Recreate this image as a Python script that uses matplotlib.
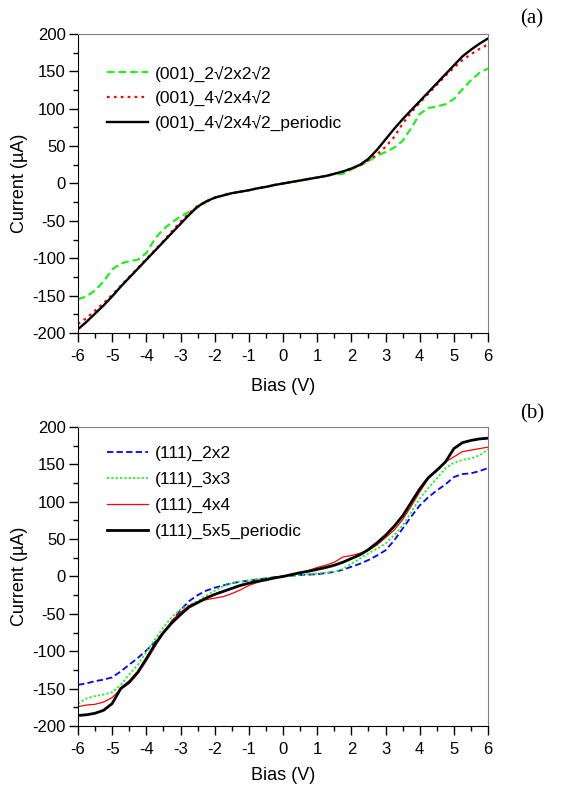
import numpy as np
import matplotlib
matplotlib.use("Agg")
import matplotlib.pyplot as plt
from matplotlib.ticker import MultipleLocator

plt.rcParams['font.family'] = ['Liberation Sans', 'DejaVu Sans']
plt.rcParams['axes.unicode_minus'] = False

#--- bias grid shared by all curves (V)
bias = np.arange(-6.0, 6.01, 0.25)

#--- panel (a): (001) surfaces, current in uA
cur_001_2r2 = [-155, -151, -143, -131, -115, -107, -104, -102, -93, -74, -61, -52,
               -44, -38, -32, -25, -19, -15, -13, -11, -9, -6.5, -4.5, -2,
               0, 2, 4, 6, 8, 10, 12, 13, 19, 24, 30, 37,
               42, 48, 57, 74, 93, 101, 103, 106, 113, 126, 138, 148, 154]
cur_001_4r2 = [-188, -180, -170, -160, -149, -137, -125, -113, -101, -89, -77, -64,
               -51, -40, -30, -24, -19, -16, -13, -11, -9, -6.5, -4.5, -2,
               0, 2, 4, 6, 8, 10, 13, 16, 20, 24, 31, 39,
               49, 62, 80, 95, 108, 120, 132, 144, 155, 165, 173, 180, 186]
cur_001_4r2_per = [-195, -185, -174, -163, -151, -138, -126, -114, -102, -90, -78, -66,
                   -54, -42, -31, -24, -19, -16, -13, -11, -9, -6.5, -4.5, -2,
                   0, 2, 4, 6, 8, 10, 13, 16, 20, 25, 33, 45,
                   59, 73, 86, 98, 110, 122, 134, 146, 158, 170, 179, 187, 194]

#--- panel (b): (111) surfaces
cur_111_2 = [-145, -143, -140, -138, -135, -127, -118, -109, -99, -88, -75, -60,
             -45, -33, -25, -19, -15, -12, -9, -7, -5.5, -4, -2.5, -1,
             0, 1, 2, 2.5, 3, 4.5, 6, 9, 13, 17, 22, 28,
             35, 48, 64, 80, 95, 106, 115, 123, 133, 137, 138, 141, 145]
cur_111_3 = [-170, -163, -160, -158, -155, -145, -131, -118, -101, -84, -68, -54,
             -44, -38, -33, -26, -19, -13, -9, -6.5, -5, -3.5, -2.5, -1,
             0, 1, 2, 3, 4, 5, 6, 10, 17, 24, 31, 37,
             44, 55, 68, 86, 104, 118, 131, 145, 152, 156, 158, 162, 170]
cur_111_4 = [-174, -172, -171, -168, -162, -151, -143, -130, -113, -94, -75, -59,
             -48, -39, -34, -31, -29, -27, -23, -18, -12, -8, -4.5, -2,
             0, 2.5, 5, 8, 12, 15, 19, 26, 28, 31, 35, 42,
             52, 62, 76, 94, 113, 131, 143, 153, 160, 167, 169, 171, 173]
cur_111_5_per = [-186, -185, -183, -179, -170, -150, -141, -128, -110, -91, -75, -62,
                 -51, -41, -35, -29, -24, -20, -16, -12, -9, -6.5, -4.5, -2,
                 0, 2.5, 5, 7, 9.5, 12, 15, 19, 24, 29, 36, 45,
                 55, 67, 81, 99, 117, 132, 142, 153, 171, 179, 182, 184, 185]

labels_a = ["(001)_2\u221a2x2\u221a2", "(001)_4\u221a2x4\u221a2", "(001)_4\u221a2x4\u221a2_periodic"]
labels_b = ["(111)_2x2", "(111)_3x3", "(111)_4x4", "(111)_5x5_periodic"]


def style_axes(ax, xpad):
    ax.set_xlim(-6, 6)
    ax.set_ylim(-200, 200)
    ax.xaxis.set_major_locator(MultipleLocator(1))
    ax.xaxis.set_minor_locator(MultipleLocator(0.5))
    ax.yaxis.set_major_locator(MultipleLocator(50))
    ax.yaxis.set_minor_locator(MultipleLocator(25))
    ax.tick_params(which='major', direction='out', length=6.5, width=1, labelsize=12)
    ax.tick_params(axis='x', which='major', pad=5)
    ax.tick_params(axis='y', which='major', pad=2.5)
    ax.tick_params(which='minor', direction='out', length=3.5, width=1)
    for side in ['top', 'right']:
        ax.spines[side].set_color('#808080')
    for side in ['left', 'bottom']:
        ax.spines[side].set_color('black')
    ax.set_xlabel("Bias (V)", fontsize=13, labelpad=xpad)
    ax.set_ylabel("Current (\u00b5A)", fontsize=13, labelpad=3)


def main():
    fig = plt.figure(figsize=(5.72, 7.85), dpi=100)
    ax_a = fig.add_axes([0.1364, 0.5758, 0.7168, 0.3809])
    ax_b = fig.add_axes([0.1364, 0.0752, 0.7168, 0.3809])

    ax_a.plot(bias, cur_001_2r2, color='#22ee22', lw=1.6, dashes=(3.4, 1.8), label=labels_a[0])
    ax_a.plot(bias, cur_001_4r2, color='#ff0000', lw=1.6, dashes=(1.2, 1.9), label=labels_a[1])
    ax_a.plot(bias, cur_001_4r2_per, color='black', lw=1.7, label=labels_a[2])
    style_axes(ax_a, 10)
    ax_a.legend(loc='upper left', bbox_to_anchor=(0.07, 0.895), frameon=False, fontsize=12.5,
                borderpad=0, borderaxespad=0, handlelength=2.4, handletextpad=0.35, labelspacing=0.5)

    ax_b.plot(bias, cur_111_2, color='#0000ff', lw=1.3, dashes=(3.5, 1.8), label=labels_b[0])
    ax_b.plot(bias, cur_111_3, color='#22ee22', lw=1.3, dashes=(1.2, 1.2), label=labels_b[1])
    ax_b.plot(bias, cur_111_4, color='#ff0000', lw=0.9, label=labels_b[2])
    ax_b.plot(bias, cur_111_5_per, color='black', lw=2.0, label=labels_b[3])
    style_axes(ax_b, 7)
    ax_b.legend(loc='upper left', bbox_to_anchor=(0.07, 0.937), frameon=False, fontsize=12.5,
                borderpad=0, borderaxespad=0, handlelength=2.4, handletextpad=0.35, labelspacing=0.62)

    fig.text(0.93, 0.976, "(a)", fontsize=15, family='Liberation Serif', ha='center', va='center')
    fig.text(0.93, 0.473, "(b)", fontsize=15, family='Liberation Serif', ha='center', va='center')

    fig.savefig("out.png", dpi=100)
    plt.close(fig)
    return


if __name__ == "__main__":
    main()
